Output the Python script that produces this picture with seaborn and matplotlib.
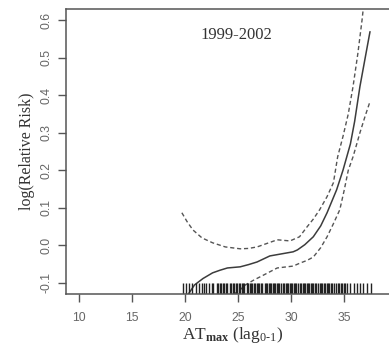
import numpy as np
import pandas as pd
import seaborn as sns
import matplotlib.pyplot as plt

# estimate curve
fit_x = [20.3, 20.9, 21.7, 22.6, 23.3, 24.0, 25.2, 26.0, 26.8, 27.4, 28.0, 29.0,
         30.2, 30.6, 31.3, 32.1, 32.8, 33.4, 34.3, 34.9, 35.3, 35.6, 36.0, 36.5,
         37.0, 37.45]
fit_y = [-0.13, -0.105, -0.088, -0.073, -0.066, -0.06, -0.057, -0.051, -0.044,
         -0.036, -0.028, -0.023, -0.017, -0.012, 0.002, 0.023, 0.052, 0.087,
         0.148, 0.2, 0.24, 0.27, 0.33, 0.423, 0.5, 0.569]

upper_x = [19.7, 20.2, 20.75, 21.6, 22.6, 23.8, 25.2, 26.0, 26.8, 27.8, 28.7,
           29.9, 30.8, 31.5, 32.1, 32.7, 33.4, 34.0, 34.4, 34.9, 35.4, 35.85,
           36.3, 36.7, 36.85]
upper_y = [0.087, 0.063, 0.041, 0.02, 0.007, -0.004, -0.009, -0.008, -0.004,
           0.006, 0.015, 0.012, 0.023, 0.049, 0.07, 0.095, 0.13, 0.167, 0.236,
           0.29, 0.35, 0.423, 0.51, 0.6, 0.64]

lower_x = [24.6, 25.2, 25.7, 26.5, 27.4, 28.7, 30.2, 30.85, 31.5, 32.1, 32.8,
           33.4, 34.0, 34.6, 35.0, 35.4, 35.85, 36.2, 36.5, 37.0, 37.45]
lower_y = [-0.13, -0.118, -0.105, -0.092, -0.079, -0.06, -0.055, -0.047,
           -0.04, -0.031, -0.006, 0.023, 0.058, 0.095, 0.145, 0.2, 0.236,
           0.27, 0.3, 0.345, 0.383]

# observed exposure values (rug)
rug_x = [19.8, 20.1, 20.4, 20.7, 21.0, 21.3,
         21.6, 21.8, 22.0, 22.3, 22.5, 22.6, 23.0, 23.1, 23.3, 23.4, 23.6,
         23.7, 23.9, 24.0, 24.2, 24.3, 24.5, 24.6, 24.8, 24.9, 25.1, 25.2,
         25.4, 25.5, 25.6, 25.8, 25.9, 26.1, 26.2, 26.3, 26.5, 26.6, 26.8,
         26.9, 27.0, 27.2, 27.3, 27.5, 27.6, 27.7, 27.9, 28.0, 28.1, 28.3,
         28.4, 28.5, 28.7, 28.8, 28.9, 29.1, 29.2, 29.3, 29.5, 29.6, 29.7,
         29.9, 30.0, 30.1, 30.3, 30.4, 30.5, 30.7, 30.8, 30.9, 31.1, 31.2,
         31.3, 31.5, 31.6, 31.7, 31.9, 32.0, 32.1, 32.3, 32.4, 32.5, 32.7,
         32.8, 32.9, 33.1, 33.2, 33.4, 33.5, 33.6, 33.8, 33.9, 34.1, 34.2,
         34.4, 34.5, 34.7, 34.8, 35.0, 35.1, 35.3,
         35.6, 35.9, 36.2, 36.5, 36.8, 37.2, 37.5]

x_ticks = [10, 15, 20, 25, 30, 35, 40]
y_ticks = [-0.1, 0.0, 0.1, 0.2, 0.3, 0.4, 0.5, 0.6]

sns.set_style("ticks")
plt.rcParams['font.family'] = ['Liberation Sans', 'DejaVu Sans']
plt.rcParams['mathtext.fontset'] = 'custom'
plt.rcParams['mathtext.rm'] = 'Liberation Serif'
plt.rcParams['mathtext.it'] = 'Liberation Serif'
plt.rcParams['mathtext.bf'] = 'Liberation Serif:bold'

fig = plt.figure(figsize=(3.89, 3.47), dpi=100)
ax = fig.add_axes([66 / 389, 53 / 347, 334 / 389, 285 / 347])

line_col = '#3c3c3c'
sns.lineplot(x=fit_x, y=fit_y, sort=False, estimator=None, ax=ax,
             color=line_col, lw=1.1)
sns.lineplot(x=upper_x, y=upper_y, sort=False, estimator=None, ax=ax,
             color='#555555', lw=1.0, linestyle=(0, (3, 2)))
sns.lineplot(x=lower_x, y=lower_y, sort=False, estimator=None, ax=ax,
             color='#555555', lw=1.0, linestyle=(0, (3, 2)))
sns.rugplot(x=rug_x, height=0.038, ax=ax, color='#222222', lw=0.9)

ax.set_xlim(8.77, 40.28)
ax.set_ylim(-0.1293, 0.6293)
ax.set_xticks(x_ticks)
ax.set_yticks(y_ticks)
ax.set_xticklabels([str(t) for t in x_ticks])
ax.set_yticklabels(['-0.1', '0.0', '0.1', '0.2', '0.3', '0.4', '0.5', '0.6'],
                   rotation=90, va='center')
ax.tick_params(axis='both', direction='out', length=6, width=1,
               color='#555555', labelcolor='#666666', labelsize=8.8, pad=4)
ax.tick_params(axis='x', pad=7)

for side in ['left', 'bottom', 'top']:
    ax.spines[side].set_color('#555555')
    ax.spines[side].set_linewidth(1.1)
    ax.spines[side].set_visible(True)
ax.spines['right'].set_visible(False)

ax.text(24.8, 0.559, '1999-2002', ha='center', va='center', fontsize=12,
        family='Liberation Serif', color='#333333')

ax.set_ylabel('log(Relative Risk)', family='Liberation Serif', fontsize=11.5,
              color='#333333', labelpad=4)
ax.set_xlabel(r'AT$_{\mathbf{max}}$ (lag$_{\mathrm{0\text{-}1}}$)',
              family='Liberation Serif', fontsize=12.5, color='#333333',
              labelpad=1)

fig.savefig('out.png', dpi=100)
